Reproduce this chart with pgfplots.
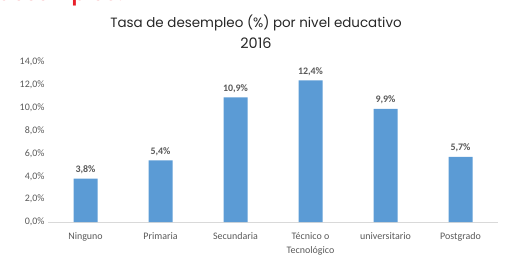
\documentclass[border=0pt]{standalone}
\usepackage{fontspec}
\setmainfont{Carlito}
\newfontfamily\titlefont{Poppins}
\newfontfamily\redfont{Poppins SemiBold}
\usepackage{pgfplots}
\pgfplotsset{compat=1.18}
\definecolor{barblue}{HTML}{5B9BD5}
\definecolor{txtgray}{HTML}{595959}
\definecolor{axgray}{HTML}{D9D9D9}
\definecolor{redtxt}{HTML}{E8202A}
\begin{document}
\begin{tikzpicture}[x=1bp,y=1bp]
\useasboundingbox (0,0) rectangle (509,258);
\begin{scope}
\clip (0,0) rectangle (509,258);
\node[font=\redfont\fontsize{21}{22}\selectfont, text=redtxt, anchor=base west, inner sep=0pt] at (-2,257.3) {desempleo:};
\end{scope}
\node[font=\titlefont\fontsize{13.5}{16}\selectfont, text=black!85] at (256,235) {Tasa de desempleo (\%) por nivel educativo};
\node[font=\titlefont\fontsize{14.5}{16}\selectfont, text=black!85] at (256,215) {2016};
\begin{axis}[
  at={(48bp,36bp)}, anchor=south west,
  scale only axis, width=450bp, height=160bp,
  xmin=-0.5, xmax=5.5, ymin=0, ymax=14,
  ybar, bar width=24bp,
  axis x line*=bottom, axis y line*=left,
  x axis line style={axgray, line width=0.8pt, -},
  y axis line style={draw=none},
  xtick=data, xtick style={draw=none}, ytick style={draw=none},
  xticklabels={Ninguno,Primaria,Secundaria,{Técnico o\\Tecnológico},universitario,Postgrado},
  xticklabel style={align=center, font=\fontsize{10}{14}\selectfont, text=txtgray, anchor=north, yshift=-3bp},
  ytick={0,2,...,14},
  yticklabel style={font=\fontsize{10}{12}\selectfont, text=txtgray, xshift=0bp},
  /pgf/number format/assume math mode=true,
  /pgf/number format/use comma, /pgf/number format/fixed, /pgf/number format/fixed zerofill, /pgf/number format/precision=1,
  yticklabel={\pgfmathprintnumber{\tick}\%},
  nodes near coords={\pgfmathprintnumber{\pgfplotspointmeta}\%},
  nodes near coords style={font=\bfseries\fontsize{10}{12}\selectfont, text=txtgray, yshift=1bp},
  clip=false,
]
\addplot[fill=barblue, draw=none] coordinates {(0,3.8) (1,5.4) (2,10.9) (3,12.4) (4,9.9) (5,5.7)};
\end{axis}
\end{tikzpicture}
\end{document}
